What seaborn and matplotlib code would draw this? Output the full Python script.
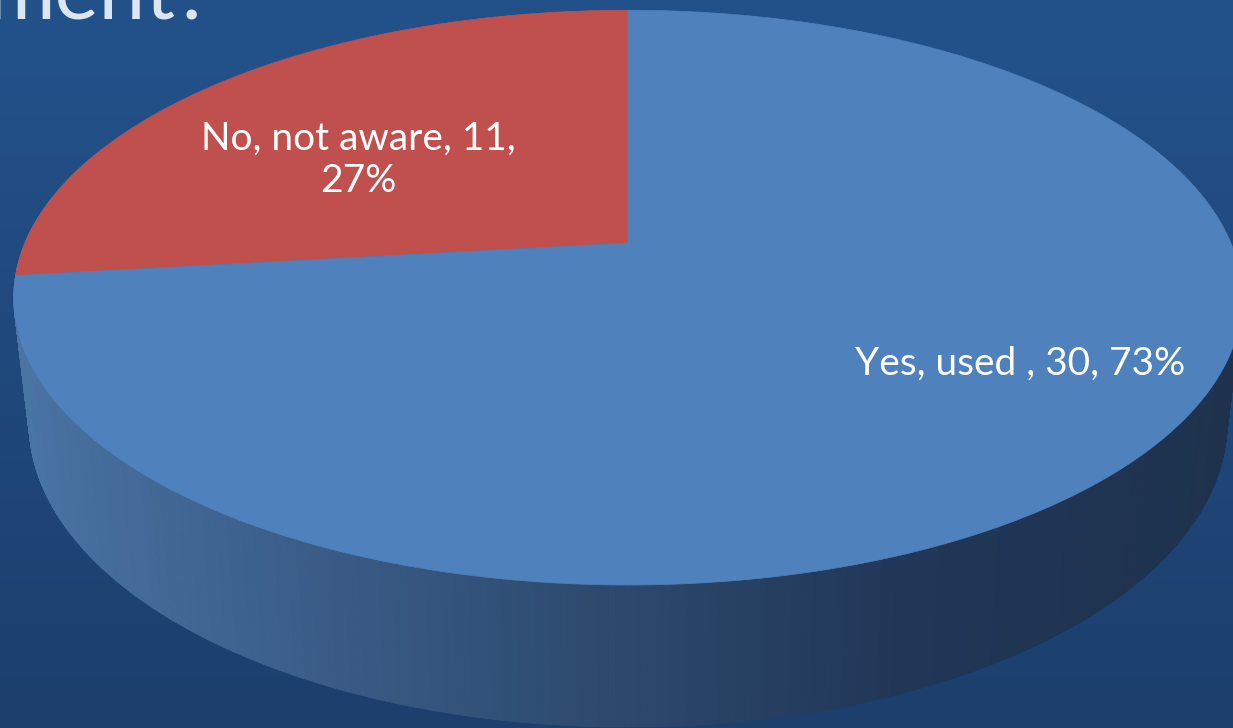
import numpy as np
import matplotlib
matplotlib.use("Agg")
import matplotlib.pyplot as plt
from matplotlib.collections import PolyCollection
from matplotlib.colors import LinearSegmentedColormap
import seaborn as sns

# Survey answers
categories = ["No, not aware", "Yes, used "]
counts = [11, 30]
slice_colors = ["#c0504d", "#4f81bd"]
title_tail = "ment?"

sns.set_theme(style="white")
plt.rcParams["font.family"] = ["Lato", "DejaVu Sans"]

W, H = 1233, 728
fig = plt.figure(figsize=(W / 100, H / 100), dpi=100)
ax = fig.add_axes([0, 0, 1, 1])
ax.set_xlim(0, W)
ax.set_ylim(H, 0)
ax.axis("off")

# slide background: soft vertical blue gradient
bg = LinearSegmentedColormap.from_list("bg", ["#23528b", "#1c3f6d"])
ax.imshow(np.linspace(0, 1, 256)[:, None], cmap=bg, aspect="auto",
          extent=[0, W, H, 0], zorder=0)

# 3D pie geometry (perspective-projected disc)
cx, cy = 628, 243          # pie centre on screen
A, B = 603, 277            # horizontal / depth radii
k = 0.19                   # perspective strength
depth = 122                # thickness of the disc
shrink = 0.025             # bottom plane lies further from the eye


def project(phi_deg, z=0.0, r=1.0):
    phi = np.radians(phi_deg)
    X = r * np.sin(phi)
    Y = -r * np.cos(phi)
    s = 1.0 / (1.0 - k * Y)
    f = 1.0 - shrink * z
    return cx + A * X * s * f, cy + B * Y * s * f + depth * s * z


total = sum(counts)
fracs = [c / total for c in counts]

# side wall, shaded left (light) to right (dark)
side_cmap = LinearSegmentedColormap.from_list(
    "side",
    [(0.0, "#4a74a4"), (0.25, "#3a5c87"), (0.52, "#2b4769"),
     (0.73, "#213758"), (1.0, "#1f324d")])
phis = np.linspace(70, 290, 881)
quads, cols = [], []
for p0, p1 in zip(phis[:-1], phis[1:]):
    t0 = project(p0, 0)
    t1 = project(p1, 0)
    b1 = project(p1, 1)
    b0 = project(p0, 1)
    quads.append([t0, t1, b1, b0])
    xm = (t0[0] + t1[0]) / 2
    cols.append(side_cmap(np.clip((xm - 15) / (W - 15), 0, 1)))
ax.add_collection(PolyCollection(quads, facecolors=cols, edgecolors=cols,
                                 linewidths=0.6, zorder=2))

# top face: slices run counter-clockwise from 12 o'clock
start = 0.0
for frac, col in zip(fracs, slice_colors):
    sweep = 360.0 * frac
    arc = np.linspace(start, start - sweep, 400)
    pts = [(cx, cy)] + [project(a) for a in arc]
    ax.add_patch(plt.Polygon(pts, closed=True, facecolor=col,
                             edgecolor=col, linewidth=0.5, zorder=3))
    start -= sweep

# data labels
pcts = [round(100 * f) for f in fracs]
ax.text(358, 160, f"{categories[0]}, {counts[0]},\n{pcts[0]}%",
        color="white", fontsize=28, ha="center", va="center",
        linespacing=1.22, zorder=5)
ax.text(1020, 364, f"{categories[1]}, {counts[1]}, {pcts[1]}%",
        color="white", fontsize=28, ha="center", va="center", zorder=5)

# tail of the slide title running off the top edge
ax.text(212, 20, title_tail, color="#dce6f2", fontsize=60,
        ha="right", va="baseline", zorder=5)

fig.savefig("out.png", dpi=100)
